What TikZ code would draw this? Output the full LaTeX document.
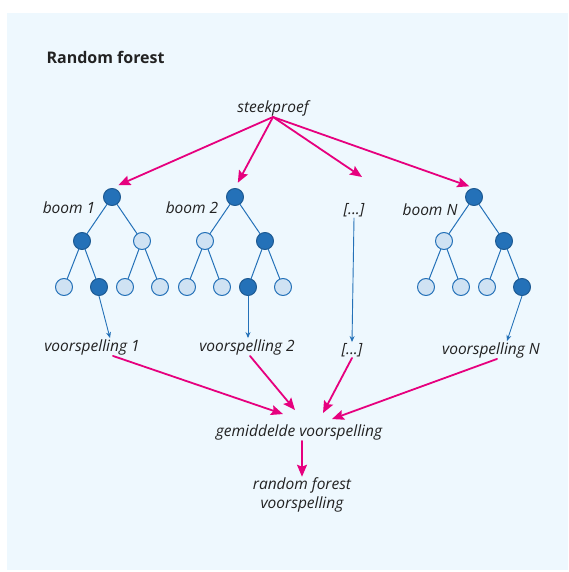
\documentclass[tikz,border=0pt]{standalone}
\usepackage{fontspec}
\setmainfont{Open Sans}
\usetikzlibrary{arrows.meta}
\definecolor{panel}{RGB}{238,248,254}
\definecolor{treeblue}{RGB}{36,113,184}
\definecolor{treelight}{RGB}{207,226,243}
\definecolor{pinkarrow}{RGB}{230,0,126}
\definecolor{ink}{RGB}{34,34,34}
\begin{document}
\begin{tikzpicture}[x=1pt, y=-1pt, line join=round, line cap=round,
		fulln/.style={circle, draw=treeblue!80!black, fill=treeblue, line width=1pt, minimum size=17pt, inner sep=0pt},
		openn/.style={circle, draw=treeblue, fill=treelight, line width=1pt, minimum size=17pt, inner sep=0pt},
		edge/.style={treeblue, line width=1pt},
		lbl/.style={font=\fontsize{15.5}{18.5}\selectfont\itshape, text=ink, inner sep=1pt},
		pink/.style={pinkarrow, line width=1.8pt, -{Stealth[length=12pt, width=10pt, inset=2pt]}},
		blue/.style={treeblue, line width=0.9pt, -{Stealth[length=6pt, width=5pt]}}]
	\useasboundingbox (0,0) rectangle (568,572);
	\fill[white] (0,0) rectangle (568,572);
	\fill[panel] (7,13) rectangle (568,570);
	\node[font=\fontsize{16}{19}\selectfont\bfseries, text=ink, anchor=west] (title) at (43,57) {Random forest};
	\node[lbl] (steek) at (273,108) {steekproef};
	% trees
	\foreach \t/\x/\sa/\sb/\la/\lb/\lc/\ld in {1/112/fulln/openn/openn/fulln/openn/openn, 2/235/openn/fulln/openn/openn/fulln/openn, N/474/openn/fulln/openn/openn/openn/fulln} {
		\node[fulln] (r\t) at (\x,197) {};
		\node[\sa] (a\t) at (\x-30,241) {};
		\node[\sb] (b\t) at (\x+30,241) {};
		\node[\la] (c\t1) at (\x-48,287) {};
		\node[\lb] (c\t2) at (\x-13,287) {};
		\node[\lc] (c\t3) at (\x+13,287) {};
		\node[\ld] (c\t4) at (\x+48,287) {};
		\draw[edge] (r\t) -- (a\t) (r\t) -- (b\t) (a\t) -- (c\t1) (a\t) -- (c\t2) (b\t) -- (c\t3) (b\t) -- (c\t4);
	}
	\node[lbl] (boom1) at (69,208) {boom 1};
	\node[lbl] (boom2) at (192,208) {boom 2};
	\node[lbl] (dotsa) at (354,210) {[...]};
	\node[lbl] (boomN) at (430,210) {boom N};
	\node[lbl] (p1) at (92,347) {voorspelling 1};
	\node[lbl] (p2) at (247,347) {voorspelling 2};
	\node[lbl] (dotsb) at (352,350) {[...]};
	\node[lbl] (pN) at (491,350) {voorspelling N};
	\node[lbl] (gem) at (299,432) {gemiddelde voorspelling};
	\node[lbl, align=center] (final) at (302,495) {random forest\\voorspelling};
	\coordinate (dotstip) at (362,177);
	% sample to trees
	\draw[pink, shorten >=7pt] (steek.south) -- (r1.north);
	\draw[pink, shorten >=6pt] (steek.south) -- (r2.north);
	\draw[pink] (steek.south) -- (dotstip);
	\draw[pink, shorten >=5pt] (steek.south) -- (rN.north);
	% trees to predictions
	\draw[blue] (c12.south) -- ([xshift=18pt]p1.north);
	\draw[blue] (c23.south) -- (p2.north -| c23);
	\draw[blue] (dotsa.south) -- (dotsb.north);
	\draw[blue] (cN4.south) -- ([xshift=16pt]pN.north);
	% predictions to average
	\draw[pink] ([xshift=21pt]p1.south) -- ([xshift=-16pt,yshift=9pt]gem.north);
	\draw[pink] ([xshift=3pt]p2.south) -- ([xshift=-4pt,yshift=13pt]gem.north);
	\draw[pink] (dotsb.south) -- ([xshift=24pt,yshift=10pt]gem.north);
	\draw[pink] ([xshift=6pt]pN.south) -- ([xshift=33pt,yshift=4pt]gem.north);
	\draw[pink] (final.north |- gem.south) -- (final.north);
\end{tikzpicture}
\end{document}
